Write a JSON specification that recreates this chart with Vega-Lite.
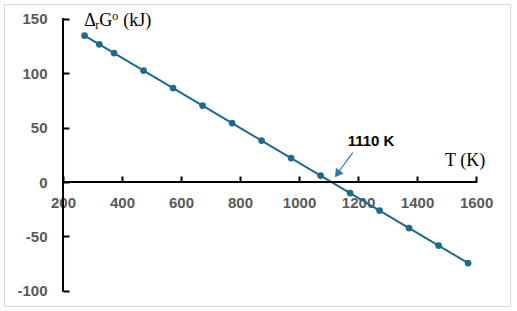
{
  "$schema": "https://vega.github.io/schema/vega-lite/v6.json",
  "autosize": "none",
  "width": 506,
  "height": 302,
  "padding": {"left": 4, "top": 4, "right": 7, "bottom": 5},
  "background": "white",
  "config": {
    "view": {"stroke": "#d9d9d9", "strokeWidth": 1},
    "axis": {
      "labelFont": "Liberation Sans",
      "labelFontWeight": "bold",
      "labelFontSize": 15,
      "labelColor": "#595959",
      "grid": false,
      "domain": false,
      "ticks": true,
      "tickColor": "black",
      "tickWidth": 2
    }
  },
  "datasets": {
    "curve": [
      {"T": 273, "G": 134.7},
      {"T": 323, "G": 126.7},
      {"T": 373, "G": 118.6},
      {"T": 473, "G": 102.5},
      {"T": 573, "G": 86.4},
      {"T": 673, "G": 70.3},
      {"T": 773, "G": 54.2},
      {"T": 873, "G": 38.1},
      {"T": 973, "G": 22.0},
      {"T": 1073, "G": 5.9},
      {"T": 1173, "G": -10.2},
      {"T": 1273, "G": -26.3},
      {"T": 1373, "G": -42.4},
      {"T": 1473, "G": -58.5},
      {"T": 1573, "G": -74.6}
    ],
    "yaxis": [{"T": 200, "G": -100, "G2": 150}],
    "xaxis": [{"T": 200, "T2": 1600, "G": 0}],
    "arrow": [{"T": 1182, "G": 27.0, "T2": 1132, "G2": 8.5}],
    "head": [{"T": 1130, "G": 7.4}],
    "crossLabel": [{"T": 1244, "G": 33.4, "label": "1110 K"}],
    "xTitle": [{"T": 1495, "G": 15, "label": "T (K)"}],
    "yTitle": [{"T": 272, "G": 144}]
  },
  "encoding": {
    "x": {
      "field": "T", "type": "quantitative",
      "scale": {"domain": [0, 1715], "nice": false, "zero": false},
      "axis": {
        "orient": "bottom", "offset": -130, "title": null,
        "values": [200, 400, 600, 800, 1000, 1200, 1400, 1600],
        "ticks": true, "tickSize": 6, "labelPadding": 13,
        "labelExpr": "'' + datum.value"
      }
    },
    "y": {
      "field": "G", "type": "quantitative",
      "scale": {"domain": [-114.1, 163.8], "nice": false, "zero": false},
      "axis": {
        "orient": "left", "offset": -65, "title": null,
        "values": [-100, -50, 0, 50, 100, 150],
        "ticks": true, "tickSize": 6, "labelPadding": 16,
        "labelExpr": "'' + datum.value"
      }
    }
  },
  "layer": [
    {
      "data": {"name": "curve"},
      "mark": {"type": "line", "color": "#1d6a8d", "strokeWidth": 2}
    },
    {
      "data": {"name": "curve"},
      "mark": {"type": "point", "filled": true, "opacity": 1, "color": "#1d6a8d", "size": 45}
    },
    {
      "data": {"name": "yaxis"},
      "mark": {"type": "rule", "color": "black", "strokeWidth": 2, "strokeCap": "square"},
      "encoding": {"y2": {"field": "G2"}}
    },
    {
      "data": {"name": "xaxis"},
      "mark": {"type": "rule", "color": "black", "strokeWidth": 2, "strokeCap": "square"},
      "encoding": {"x2": {"field": "T2"}}
    },
    {
      "data": {"name": "arrow"},
      "mark": {"type": "rule", "color": "#2c7bab", "strokeWidth": 1.2},
      "encoding": {"x2": {"field": "T2"}, "y2": {"field": "G2"}}
    },
    {
      "data": {"name": "head"},
      "mark": {"type": "point", "shape": "triangle-down", "filled": true, "opacity": 1, "color": "#2c7bab", "size": 90, "angle": 36}
    },
    {
      "data": {"name": "crossLabel"},
      "mark": {"type": "text", "font": "Liberation Sans", "fontWeight": "bold", "fontSize": 15, "color": "black", "align": "center", "baseline": "alphabetic"},
      "encoding": {"text": {"field": "label"}}
    },
    {
      "data": {"name": "xTitle"},
      "mark": {"type": "text", "font": "Liberation Serif", "fontSize": 18, "color": "black", "align": "left", "baseline": "alphabetic"},
      "encoding": {"text": {"field": "label"}}
    },
    {
      "data": {"name": "yTitle"},
      "mark": {"type": "text", "text": "Δ", "font": "Liberation Serif", "fontSize": 18, "color": "black", "align": "left", "baseline": "alphabetic"}
    },
    {
      "data": {"name": "yTitle"},
      "mark": {"type": "text", "text": "r", "font": "Liberation Serif", "fontSize": 12, "color": "black", "align": "left", "baseline": "alphabetic", "dx": 11, "dy": 3}
    },
    {
      "data": {"name": "yTitle"},
      "mark": {"type": "text", "text": "G", "font": "Liberation Serif", "fontSize": 18, "color": "black", "align": "left", "baseline": "alphabetic", "dx": 15}
    },
    {
      "data": {"name": "yTitle"},
      "mark": {"type": "text", "text": "o", "font": "Liberation Serif", "fontSize": 12, "color": "black", "align": "left", "baseline": "alphabetic", "dx": 28, "dy": -6}
    },
    {
      "data": {"name": "yTitle"},
      "mark": {"type": "text", "text": "(kJ)", "font": "Liberation Serif", "fontSize": 18, "color": "black", "align": "left", "baseline": "alphabetic", "dx": 39}
    }
  ]
}
